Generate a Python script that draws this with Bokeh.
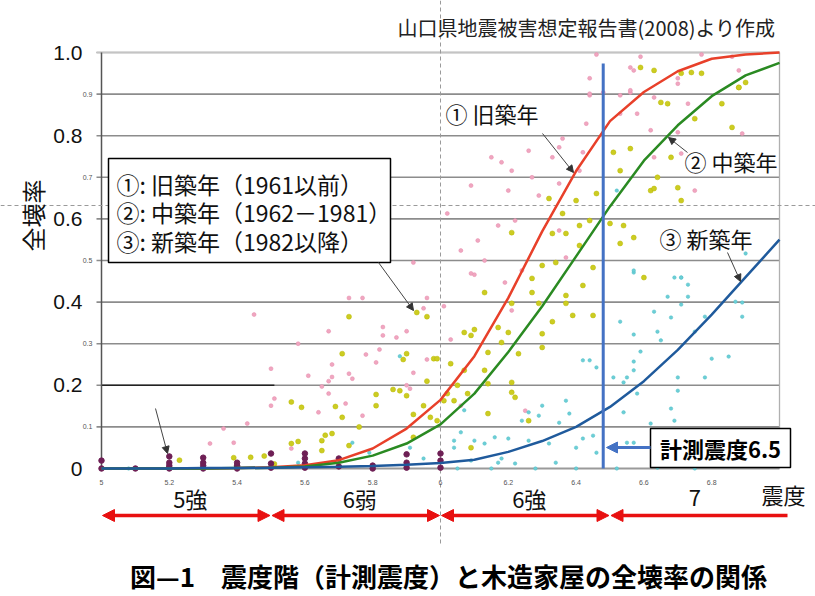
import math
from bokeh.plotting import figure
from bokeh.models import Arrow, NormalHead
from bokeh.core.properties import value
from bokeh.embed import file_html
from bokeh.resources import INLINE

# ---------------- data ----------------
intensity = [5.0, 5.1, 5.2, 5.3, 5.4, 5.5, 5.6, 5.7, 5.8, 5.9, 6.0,
             6.1, 6.2, 6.3, 6.4, 6.5, 6.6, 6.7, 6.8, 6.9, 7.0]
old_rate = [0.0, 0.0, 0.0, 0.0, 0.001, 0.003, 0.008, 0.02, 0.048, 0.096, 0.165,
            0.27, 0.41, 0.57, 0.715, 0.835, 0.905, 0.955, 0.985, 0.995, 1.0]
mid_rate = [0.0, 0.0, 0.0, 0.0, 0.001, 0.002, 0.005, 0.014, 0.031, 0.06, 0.106,
            0.18, 0.28, 0.39, 0.51, 0.63, 0.74, 0.825, 0.895, 0.945, 0.975]
new_rate = [0.0, 0.0, 0.0, 0.001, 0.001, 0.002, 0.003, 0.004, 0.006, 0.009, 0.013,
            0.021, 0.04, 0.066, 0.1, 0.148, 0.21, 0.285, 0.37, 0.46, 0.55]

old_pts_x = [5.92, 5.73, 5.77, 5.96, 5.45, 5.95, 5.83, 5.90, 5.67, 5.83, 5.58, 5.87, 5.78, 5.82,
             5.81, 5.68, 5.50, 5.73, 5.68, 5.74, 5.67, 5.61, 5.96, 5.92, 5.90, 5.65,
             5.51, 5.50, 5.64, 5.67, 5.72, 5.77, 5.56, 5.91, 5.43, 5.32, 5.39, 5.36,
             6.01, 6.03, 6.10, 6.19, 6.21, 6.25, 6.06,
             6.44, 6.48, 6.53, 6.58, 6.73, 6.62, 6.70, 6.89, 6.43, 6.36, 6.42, 6.33, 6.26,
             6.21, 6.18, 6.27, 6.35, 6.41, 6.09, 6.20, 6.29, 6.15, 6.35, 6.02, 6.17, 6.22,
             6.35, 6.11, 6.06, 6.13, 6.24, 6.09, 6.37, 6.71, 6.75, 6.63, 6.56,
             6.44, 6.46, 6.56, 6.57, 6.59, 6.70, 6.70, 6.77, 6.86, 6.88, 6.44, 6.53, 6.56, 6.63]
old_pts_y = [0.495, 0.41, 0.41, 0.41, 0.37, 0.385, 0.34, 0.33, 0.33, 0.32, 0.30, 0.315, 0.274, 0.286,
             0.255, 0.25, 0.24, 0.228, 0.22, 0.216, 0.21, 0.223, 0.262, 0.23, 0.20, 0.197,
             0.168, 0.151, 0.135, 0.18, 0.156, 0.127, 0.048, 0.192, 0.108, 0.06, 0.062, 0.096,
             0.39, 0.31, 0.466, 0.447, 0.38, 0.139, 0.151,
             0.897, 0.904, 0.853, 0.853, 0.877, 0.813, 0.808, 0.805, 0.829, 0.793, 0.76, 0.748, 0.764,
             0.716, 0.736, 0.70, 0.685, 0.716, 0.68, 0.668, 0.656, 0.748, 0.772, 0.613, 0.584, 0.596,
             0.572, 0.548, 0.524, 0.50, 0.476, 0.469, 0.507, 0.757, 0.668, 0.748, 0.904,
             0.938, 0.995, 0.964, 0.957, 0.99, 0.938, 0.925, 0.995, 0.99, 0.957, 0.901, 0.897, 0.909, 0.892]

mid_pts_x = [5.73, 5.93, 5.96, 5.71, 5.90, 5.89, 5.98, 5.96, 5.86,
             5.23, 5.39, 5.56, 5.59, 5.56, 5.58, 5.65, 5.65, 5.68, 5.69, 5.76, 5.81, 5.81, 5.73,
             5.90, 5.95, 5.97, 5.92, 5.88, 6.01, 5.48, 5.44, 5.66, 5.71, 5.92, 5.51, 5.99,
             6.13, 6.17, 6.18, 6.10, 6.07, 6.03, 6.07, 6.14, 6.21, 6.27, 6.29, 6.33, 6.30, 6.37,
             6.37, 6.42, 6.45, 6.39, 6.23, 6.30, 6.13, 6.21, 6.27, 6.20, 5.99, 6.60, 6.05, 6.09,
             6.02, 6.04, 6.08, 6.14, 6.21, 6.22, 6.09, 6.26, 6.14,
             6.65, 6.67, 6.75, 6.83, 6.88, 6.86, 6.51, 6.56, 6.53, 6.64, 6.62, 6.70, 6.71, 6.68,
             6.32, 6.40, 6.36, 6.44, 6.41, 6.33, 6.37, 6.30, 6.34, 6.54, 6.53, 6.57, 6.41, 6.45,
             6.63, 6.21, 6.46, 6.50,
             6.59, 6.63, 6.71, 6.74, 6.77, 6.88, 6.90]
mid_pts_y = [0.365, 0.375, 0.365, 0.276, 0.276, 0.262, 0.264, 0.21, 0.19,
             0.02, 0.026, 0.16, 0.147, 0.06, 0.065, 0.067, 0.043, 0.084, 0.149, 0.10, 0.151, 0.178, 0.055,
             0.175, 0.151, 0.123, 0.13, 0.187, 0.163, 0.03, 0.027, 0.08, 0.123, 0.075, 0.011, 0.115,
             0.423, 0.339, 0.303, 0.334, 0.327, 0.252, 0.236, 0.279, 0.397, 0.457, 0.397, 0.353, 0.324, 0.416,
             0.397, 0.44, 0.368, 0.368, 0.276, 0.291, 0.236, 0.207, 0.423, 0.327, 0.264, 0.459, 0.20, 0.32,
             0.18, 0.163, 0.18, 0.204, 0.183, 0.171, 0.05, 0.115, 0.132,
             0.88, 0.877, 0.841, 0.877, 0.916, 0.82, 0.76, 0.769, 0.716, 0.70, 0.668, 0.675, 0.644, 0.748,
             0.649, 0.644, 0.613, 0.596, 0.584, 0.565, 0.565, 0.488, 0.495, 0.584, 0.541, 0.555, 0.536, 0.483,
             0.673, 0.567, 0.661, 0.589,
             0.964, 0.957, 0.95, 0.952, 0.95, 0.916, 0.928]

new_pts_x = [5.88, 5.58, 5.79, 5.95, 6.04, 5.91, 5.74, 5.08,
             6.57, 6.69, 6.71, 6.73, 6.67, 6.73, 6.63, 6.71, 6.53, 6.68, 6.78, 6.89, 6.87, 6.89,
             6.57, 6.64, 6.65, 6.75, 6.59, 6.80, 6.85, 6.57, 6.57, 6.55, 6.51, 6.54, 6.70, 6.78,
             6.42, 6.44, 6.46,
             6.04, 6.10, 6.13, 6.16, 6.20, 6.18, 6.26, 6.29, 6.32, 6.35, 6.37, 6.38, 6.40, 6.42,
             6.46, 6.45, 6.54, 6.55, 6.57, 6.58, 6.62, 6.68, 6.69, 6.70, 6.24, 6.07, 6.30, 6.17,
             6.09, 6.22, 6.34, 6.06, 6.26,
             6.52, 6.57, 6.71, 6.90,
             6.05, 6.15, 6.28, 6.40, 6.52, 6.64, 6.75]
new_pts_y = [0.27, 0.014, 0.038, 0.024, 0.05, 0.05, 0.062, 0.0,
             0.471, 0.459, 0.459, 0.442, 0.413, 0.413, 0.377, 0.394, 0.353, 0.363, 0.365, 0.365, 0.401, 0.399,
             0.322, 0.329, 0.308, 0.329, 0.281, 0.264, 0.269, 0.257, 0.236, 0.219, 0.219, 0.207, 0.219, 0.219,
             0.26, 0.26, 0.243,
             0.067, 0.067, 0.06, 0.075, 0.072, 0.024, 0.067, 0.127, 0.06, 0.11, 0.163, 0.132, 0.05, 0.072,
             0.038, 0.079, 0.135, 0.062, 0.062, 0.18, 0.108, 0.144, 0.115, 0.187, 0.115, 0.14, 0.151, 0.014,
             0.019, 0.012, 0.014, 0.087, 0.135,
             0.668, 0.476, 0.459, 0.517,
             0.0, 0.0, 0.0, 0.0, 0.0, 0.002, 0.0]

obs_x = [5.0, 5.0, 5.1, 5.2, 5.2, 5.2, 5.2, 5.2, 5.3, 5.3, 5.3, 5.3, 5.4, 5.4, 5.4, 5.4,
         5.5, 5.5, 5.5, 5.6, 5.6, 5.6, 5.6, 5.7, 5.7, 5.8, 5.8, 5.9, 5.9, 5.9, 6.0, 6.0, 6.0]
obs_y = [0.0, 0.019, 0.0, 0.0, 0.002, 0.007, 0.014, 0.029, 0.0, 0.007, 0.014, 0.026, 0.0, 0.004, 0.007, 0.014,
         0.002, 0.012, 0.036, 0.002, 0.012, 0.024, 0.036, 0.005, 0.024, 0.0, 0.007, 0.002, 0.014, 0.034,
         0.002, 0.019, 0.036]

y_major = [0.0, 0.2, 0.4, 0.6, 0.8, 1.0]
y_major_labels = ["0", "0.2", "0.4", "0.6", "0.8", "1.0"]
y_minor = [0.1, 0.3, 0.5, 0.7, 0.9]
y_minor_labels = ["0.1", "0.3", "0.5", "0.7", "0.9"]
x_ticks = [5.0, 5.2, 5.4, 5.6, 5.8, 6.0, 6.2, 6.4, 6.6, 6.8]
x_tick_labels = ["5", "5.2", "5.4", "5.6", "5.8", "6", "6.2", "6.4", "6.6", "6.8"]
grid_levels = [0.1, 0.2, 0.3, 0.4, 0.5, 0.6, 0.7, 0.8, 0.9, 1.0]

class_bounds = [5.0, 5.5, 6.0, 6.5, 7.0]
class_labels = ["5強", "6弱", "6強", "7"]
legend_lines = ["①: 旧築年（1961以前）", "②: 中築年（1962－1981）", "③: 新築年（1982以降）"]
measured_marker = 6.48

# ---------------- layout helpers (page pixel -> data) ----------------
X0, XS = 101, 339.0
Y0, YS = 468, 416.0
def X(px):
    return 5 + (px - X0) / XS
def Y(py):
    return (Y0 - py) / YS

JP = "Noto Sans CJK JP"
NUM = "Liberation Sans"
W, H = 815, 596

p = figure(width=W, height=H, x_range=(X(0), X(W)), y_range=(Y(H), Y(0)),
           output_backend="svg", toolbar_location=None,
           x_axis_type=None, y_axis_type=None, min_border=0)
p.min_border_left = p.min_border_right = p.min_border_top = p.min_border_bottom = 0
p.outline_line_color = None
p.grid.visible = False
p.background_fill_color = "white"
p.border_fill_color = "white"

def txt(x, y, s, size, font=JP, align="left", baseline="middle", color="#111111",
        style="normal", angle=0.0):
    p.text(x=[x], y=[y], text=[s], text_font=value(font), text_font_size=size,
           text_align=align, text_baseline=baseline, text_color=color,
           text_font_style=style, angle=angle)

# gridlines
gx0 = X(96)
p.segment(x0=[gx0] * len(grid_levels), y0=grid_levels, x1=[7.0] * len(grid_levels), y1=grid_levels,
          line_color="#8c8c8c", line_width=1.6)
p.segment(x0=[gx0], y0=[1.0], x1=[7.0], y1=[1.0], line_color="#c4c4c4", line_width=1.6)
p.segment(x0=[5.0], y0=[0.2], x1=[5.51], y1=[0.2], line_color="#222222", line_width=1.6)
# axes frame lines
p.segment(x0=[5.0], y0=[0.0], x1=[5.0], y1=[1.0], line_color="#555555", line_width=1.5)
p.segment(x0=[7.0], y0=[0.0], x1=[7.0], y1=[1.0], line_color="#b0b0b0", line_width=1.3)
p.segment(x0=[5.0], y0=[0.0], x1=[7.0], y1=[0.0], line_color="#9a9a9a", line_width=2)

# crosshair dashed lines (as in reference picture)
p.segment(x0=[6.0], y0=[Y(0)], x1=[6.0], y1=[Y(545)], line_color="#9a9a9a", line_width=1,
          line_dash="4 3")
p.segment(x0=[X(0)], y0=[Y(205)], x1=[X(W)], y1=[Y(205)], line_color="#9a9a9a", line_width=1,
          line_dash="4 3")

# scatter
p.scatter(old_pts_x, old_pts_y, size=4, fill_color="#f0a6c0", line_color="#e58aaa", line_width=0.5)
p.scatter(mid_pts_x, mid_pts_y, size=5, fill_color="#cccc22", line_color="#b8b800", line_width=0.5)
p.scatter(new_pts_x, new_pts_y, size=3.5, fill_color="#6ccfd6", line_color="#4fbcc6", line_width=0.5)
p.scatter(obs_x, obs_y, size=5.5, fill_color="#6e1f55", line_color="#6e1f55")

# curves
p.line(intensity, old_rate, line_color="#e8402a", line_width=2.5)
p.line(intensity, mid_rate, line_color="#2a8a22", line_width=2.5)
p.line(intensity, new_rate, line_color="#1f5a9c", line_width=2.5)

# measured intensity marker
p.segment(x0=[measured_marker], y0=[0.0], x1=[measured_marker], y1=[Y(63)],
          line_color="#4472c4", line_width=3)

# tick labels
p.text(x=[X(82)] * len(y_major), y=y_major, text=y_major_labels, text_font=value(NUM),
       text_font_size="21px", text_align="right", text_baseline="middle", text_color="#111111")
p.text(x=[X(87)] * len(y_minor), y=y_minor, text=y_minor_labels, text_font=value(NUM),
       text_font_size="7px", text_align="center", text_baseline="middle", text_color="#555555")
p.text(x=x_ticks, y=[Y(482)] * len(x_ticks), text=x_tick_labels, text_font=value(NUM),
       text_font_size="7px", text_align="center", text_baseline="middle", text_color="#555555")

# y label
txt(X(32), Y(215), "全壊率", "24px", align="center", angle=math.pi / 2)

# header note
txt(X(775), Y(27), "山口県地震被害想定報告書(2008)より作成", "20px", align="right", color="#222222")

# legend box
p.quad(left=[X(108)], right=[X(390)], top=[Y(158)], bottom=[Y(262)],
       fill_color="white", line_color="black", line_width=1.5)
p.text(x=[X(116)] * len(legend_lines), y=[Y(183 + 28.5 * i) for i in range(len(legend_lines))],
       text=legend_lines, text_font=value(JP), text_font_size="23px",
       text_align="left", text_baseline="middle", text_color="#111111")

# curve annotations
txt(X(445), Y(112), "① 旧築年", "22px")
txt(X(684), Y(160), "② 中築年", "22px")
txt(X(659), Y(237), "③ 新築年", "22px")

def thin_arrow(a, b, c, d):
    p.add_layout(Arrow(end=NormalHead(size=7, fill_color="#333333", line_color="#333333"),
                       x_start=X(a), y_start=Y(b), x_end=X(c), y_end=Y(d),
                       line_color="#444444", line_width=1))

thin_arrow(542, 133, 573, 172)
thin_arrow(687, 152, 668, 137)
thin_arrow(727, 252, 740, 281)
thin_arrow(378, 262, 413, 310)
thin_arrow(155, 408, 167, 453)

# measured-intensity call-out
p.quad(left=[X(650)], right=[X(790)], top=[Y(428)], bottom=[Y(467)],
       fill_color="white", line_color="black", line_width=1.5)
txt(X(720), Y(447), "計測震度6.5", "22px", align="center", style="bold", color="#000000")
p.add_layout(Arrow(end=NormalHead(size=11, fill_color="#4472c4", line_color="#4472c4"),
                   x_start=X(650), y_start=Y(447), x_end=X(606), y_end=Y(447),
                   line_color="#4472c4", line_width=3))

# intensity classes (red arrows + labels)
red = "#e81010"
ay = Y(515)
for i, lab in enumerate(class_labels):
    lo, hi = class_bounds[i], class_bounds[i + 1]
    last = i == len(class_labels) - 1
    x_end = X(787) if last else hi - 1.0 / XS
    p.add_layout(Arrow(start=NormalHead(size=12, fill_color=red, line_color=red),
                       end=None if last else NormalHead(size=12, fill_color=red, line_color=red),
                       x_start=lo + 1.0 / XS, y_start=ay, x_end=x_end, y_end=ay,
                       line_color=red, line_width=3.5))
    txt((lo + hi) / 2 + (4 / XS if not last else 0), Y(497), lab, "22px", align="center")
txt(X(783), Y(493), "震度", "22px", align="center")

# figure caption
txt(X(448), Y(575), "図—1　震度階（計測震度）と木造家屋の全壊率の関係", "26px", align="center",
    style="bold", color="#000000")

open("out.html", "w").write(file_html(p, INLINE))
